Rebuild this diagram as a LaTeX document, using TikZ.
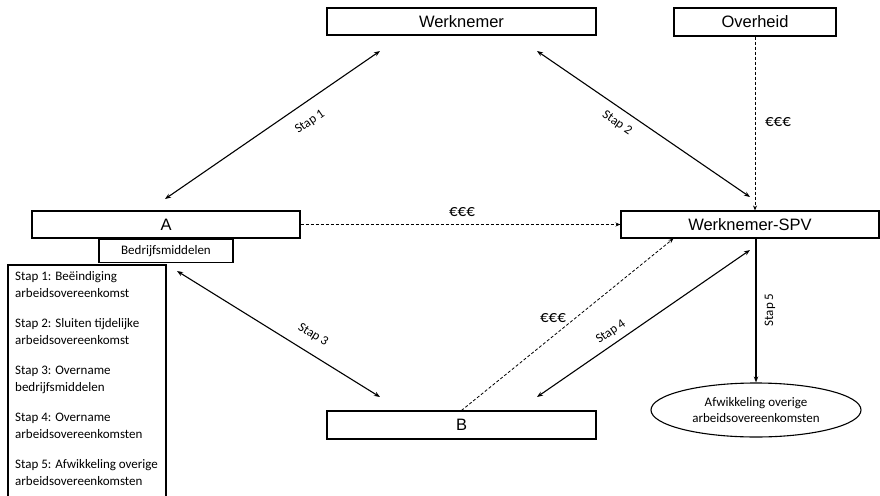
\documentclass[tikz,border=0pt]{standalone}
\usepackage{fontspec}
\setmainfont{Carlito}
\newfontfamily\boxfont{Liberation Sans}
\usetikzlibrary{arrows.meta, positioning, shapes.geometric}

\tikzset{
  box/.style={draw, line width=1.1pt, inner sep=0pt, font=\boxfont\fontsize{16.5}{19}\selectfont},
  smallbox/.style={draw, line width=1.1pt, inner sep=0pt, font=\fontsize{13}{16}\selectfont},
  legend/.style={align=left, inner xsep=7pt, inner ysep=6pt, font=\fontsize{13}{17}\selectfont},
  arr/.style={line width=1.1pt, {Stealth[length=6pt,width=4.5pt]}-{Stealth[length=6pt,width=4.5pt]}},
  oneway/.style={line width=1.1pt, -{Stealth[length=6pt,width=4.5pt]}},
  geld/.style={line width=0.8pt, dash pattern=on 3pt off 2pt, -{Stealth[length=5pt,width=4pt]}},
  stap/.style={font=\fontsize{13}{15}\selectfont, inner sep=0pt},
  euro/.style={font=\fontsize{17}{19}\selectfont, inner sep=0pt},
}

\begin{document}
\begin{tikzpicture}[x=1pt, y=-1pt]
\useasboundingbox (0,0) rectangle (880,495);

% partijen
\node [box, minimum width=269pt, minimum height=27pt] (werknemer) at (461.5,21.5) {Werknemer};
\node [box, minimum width=162pt, minimum height=28pt] (overheid) at (755,22) {Overheid};
\node [box, minimum width=268pt, minimum height=27pt] (a) at (166,224.5) {A};
\node [smallbox, minimum width=134pt, minimum height=23pt, below=0pt of a] (middelen) {Bedrijfsmiddelen};
\node [box, minimum width=258pt, minimum height=27pt] (spv) at (750,224.5) {Werknemer-SPV};
\node [box, minimum width=269pt, minimum height=28pt] (b) at (461.5,425) {B};
\node [ellipse, draw, line width=1.1pt, minimum width=210pt, minimum height=54pt, inner sep=0pt,
       align=center, font=\fontsize{13}{15.5}\selectfont] (rest) at (756,410)
      {Afwikkeling overige\\arbeidsovereenkomsten};

% legenda
\draw [line width=1.1pt] (8,265) rectangle (166,505);
\node [legend, anchor=north west] (uitleg) at (8,265) {%
  Stap 1: Beëindiging\\arbeidsovereenkomst\\[13pt]
  Stap 2: Sluiten tijdelijke\\arbeidsovereenkomst\\[13pt]
  Stap 3: Overname\\bedrijfsmiddelen\\[13pt]
  Stap 4: Overname\\arbeidsovereenkomsten\\[13pt]
  Stap 5: Afwikkeling overige\\arbeidsovereenkomsten};

% eindpunten van de stappen
\coordinate (s1a) at (165,199);
\coordinate (s1w) at (380,51);
\coordinate (s2w) at (537,51);
\coordinate (s2s) at (750,197);
\coordinate (s3a) at (177,271);
\coordinate (s3b) at (380,397);
\coordinate (s4b) at (537,397);
\coordinate (s4s) at (750,250);
\coordinate (g3) at ([xshift=53pt]spv.south west);

\draw [arr] (s1a) -- (s1w);
\draw [arr] (s2w) -- (s2s);
\draw [arr] (s3a) -- (s3b);
\draw [arr] (s4b) -- (s4s);
\draw [oneway] (rest.north |- spv.south) -- (rest.north);

% geldstromen
\draw [geld] (a.east) -- (spv.west);
\draw [geld] (overheid.south) -- (overheid.south |- spv.north);
\draw [geld] (b.north) -- (g3);

\node [stap, rotate=34.5] (l1) at (310,122) {Stap 1};
\node [stap, rotate=-34.4] (l2) at (617,123) {Stap 2};
\node [stap, rotate=-31.8] (l3) at (313,335) {Stap 3};
\node [stap, rotate=34.6] (l4) at (611,332) {Stap 4};
\node [stap, rotate=90] (l5) at (770,310) {Stap 5};

\node [euro] (e1) at (462,212) {€€€};
\node [euro] (e2) at (778,122) {€€€};
\node [euro] (e3) at (553,318) {€€€};
\end{tikzpicture}
\end{document}
